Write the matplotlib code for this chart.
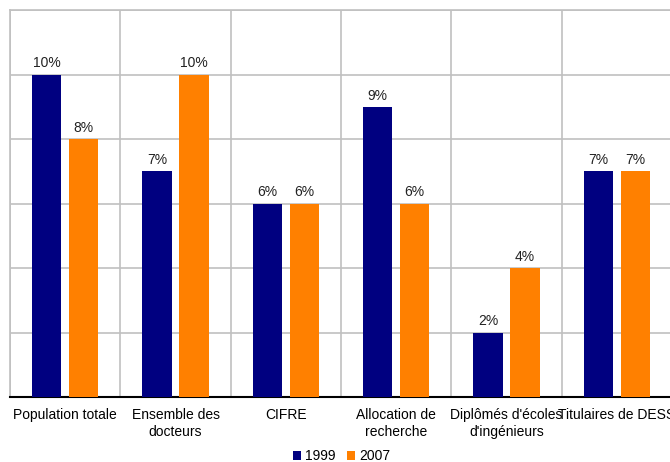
import matplotlib.pyplot as plt
import numpy as np

plt.rcParams['font.family'] = ['Liberation Sans', 'DejaVu Sans']

categories = ["Population totale", "Ensemble des\ndocteurs", "CIFRE",
              "Allocation de\nrecherche", "Diplômés d'écoles\nd'ingénieurs",
              "Titulaires de DESS"]
vals_1999 = [10, 7, 6, 9, 2, 7]
vals_2007 = [8, 10, 6, 6, 4, 7]

colors = {'1999': '#000080', '2007': '#FF8000'}

fig = plt.figure(figsize=(6.70, 4.62), dpi=100)
ax = fig.add_axes([10 / 670, 1 - 397 / 462, 662 / 670, 387 / 462])

x = np.arange(len(categories))
w = 0.265
off = 0.168

b1 = ax.bar(x - off, vals_1999, w, color=colors['1999'], label='1999', zorder=3)
b2 = ax.bar(x + off, vals_2007, w, color=colors['2007'], label='2007', zorder=3)

for bars in (b1, b2):
    for r in bars:
        ax.annotate(f"{r.get_height():.0f}%",
                    (r.get_x() + r.get_width() / 2, r.get_height()),
                    xytext=(0, 3), textcoords='offset points',
                    ha='center', va='bottom', fontsize=10, color='#222222')

ax.set_ylim(0, 12)
ax.set_xlim(-0.5, len(categories) - 0.5)
ax.set_yticks(np.arange(0, 13, 2))
ax.set_yticklabels([])
ax.set_xticks(x)
ax.set_xticklabels(categories, fontsize=10, linespacing=1.3)
ax.set_xticks(np.arange(-0.5, len(categories), 1), minor=True)
ax.tick_params(axis='both', length=0)
ax.tick_params(axis='x', which='minor', length=0)
ax.tick_params(axis='x', pad=8)

ax.grid(True, axis='y', color='#C0C0C0', linewidth=1.2, zorder=0)
ax.grid(True, axis='x', which='minor', color='#C0C0C0', linewidth=1.2, zorder=0)
ax.grid(False, axis='x', which='major')

for s in ['left', 'top', 'right']:
    ax.spines[s].set_color('#C0C0C0')
    ax.spines[s].set_linewidth(1.2)
ax.spines['bottom'].set_color('black')
ax.spines['bottom'].set_linewidth(1.5)

fig.legend(loc='lower center', bbox_to_anchor=(0.51, -0.03), ncol=2, frameon=False,
           fontsize=10, handlelength=0.6, handleheight=0.6, handletextpad=0.3,
           columnspacing=0.8)

fig.savefig('out.png', dpi=100)
